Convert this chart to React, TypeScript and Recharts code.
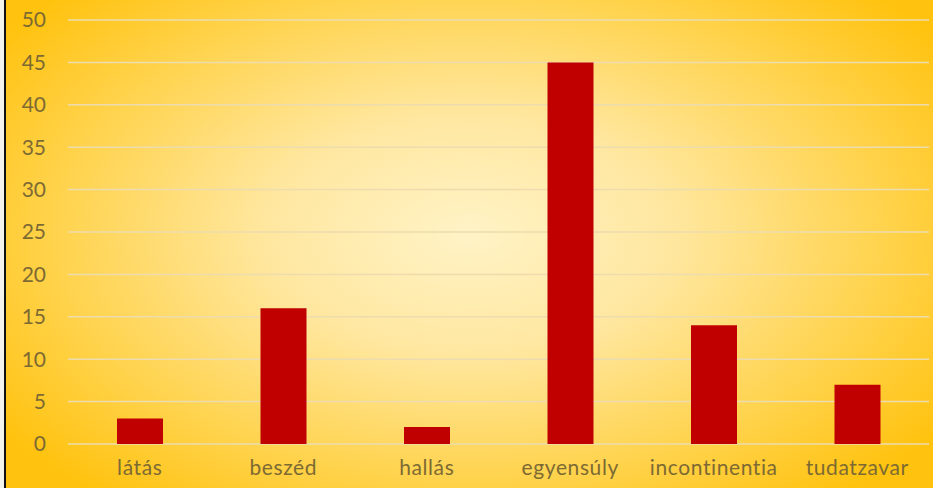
import { BarChart, Bar, XAxis, YAxis, CartesianGrid } from "recharts";

const categories = ["látás", "beszéd", "hallás", "egyensúly", "incontinentia", "tudatzavar"];
const counts = [3, 16, 2, 45, 14, 7];
const yTicks = [0, 5, 10, 15, 20, 25, 30, 35, 40, 45, 50];

const data = categories.map((name, i) => ({ name, value: counts[i] }));

const textColor = "#7d6a33";
const fontFamily = "Lato, 'Noto Sans', sans-serif";

export default function App() {
  return (
    <div
      style={{
        position: "absolute",
        left: 0,
        top: 0,
        width: 933,
        height: 488,
        overflow: "hidden",
        background: "#f4f4ec",
      }}
    >
      <div
        style={{
          position: "absolute",
          left: 4,
          top: 0,
          width: 2,
          height: 488,
          background: "#111",
        }}
      />
      <div
        style={{
          position: "absolute",
          left: 6,
          top: 0,
          width: 927,
          height: 488,
          background:
            "radial-gradient(ellipse 62% 70% at 50% 48%, #fff3c6 0%, #ffe7a0 35%, #ffd451 70%, #ffc20e 100%)",
        }}
      />
      <div style={{ position: "absolute", left: 0, top: 0 }}>
        <BarChart
          width={933}
          height={488}
          data={data}
          margin={{ top: 20, right: 4, bottom: 0, left: 0 }}
          barCategoryGap={0}
        >
          <CartesianGrid vertical={false} stroke="#eddcae" strokeWidth={1.5} />
          <XAxis
            dataKey="name"
            height={44}
            axisLine={false}
            tickLine={false}
            tickSize={0}
            tickMargin={16}
            interval={0}
            tick={{ fill: textColor, fontSize: 21, fontFamily, letterSpacing: 0.6 }}
          />
          <YAxis
            width={68}
            domain={[0, 50]}
            ticks={yTicks}
            axisLine={false}
            tickLine={false}
            tickSize={0}
            tickMargin={22}
            tick={{ fill: textColor, fontSize: 21, fontFamily }}
          />
          <Bar dataKey="value" fill="#c00000" barSize={46} isAnimationActive={false} />
        </BarChart>
      </div>
    </div>
  );
}
